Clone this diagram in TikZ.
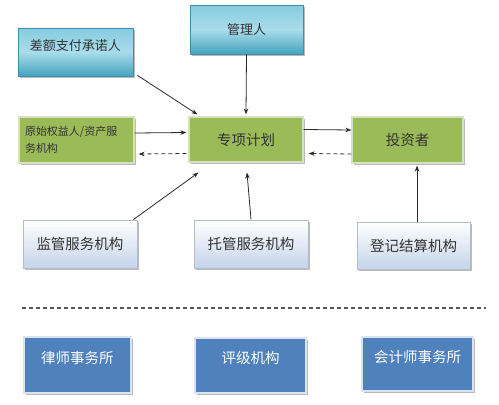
\documentclass[tikz,border=0pt]{standalone}
\usepackage{fontspec}
\setmainfont{Noto Sans CJK SC}
\usetikzlibrary{arrows.meta,shadows,calc}
\definecolor{cyT}{HTML}{86CCDF}
\definecolor{cyM}{HTML}{A9DCEA}
\definecolor{cyB}{HTML}{45A3BF}
\definecolor{cyD}{HTML}{3E8FA8}
\definecolor{grn}{HTML}{9BBB59}
\definecolor{grnE}{HTML}{D6E0C4}
\definecolor{litB}{HTML}{C4D4EA}
\definecolor{litE}{HTML}{B4BCC8}
\definecolor{dkb}{HTML}{4F81BD}
\definecolor{dkE}{HTML}{DCE3EE}
\definecolor{txt}{HTML}{333333}
\definecolor{ln}{HTML}{2A2A2A}
\begin{document}
\begin{tikzpicture}[x=1pt,y=-1pt,
  shad/.style={drop shadow={shadow xshift=1.8pt,shadow yshift=-1.8pt,opacity=0.45,fill=black!60}},
  blubox/.style={draw=cyD,line width=0.6pt,top color=cyT,bottom color=cyB,middle color=cyM,shad,
    font=\fontsize{13}{15}\selectfont,text=txt},
  grnbox/.style={draw=grnE,line width=1.2pt,fill=grn,shad,font=\fontsize{14.5}{17}\selectfont,text=txt},
  litbox/.style={draw=litE,line width=0.8pt,top color=white,bottom color=litB,shad,
    font=\fontsize{14.5}{17}\selectfont,text=txt},
  dkbox/.style={draw=dkE,line width=1.2pt,fill=dkb,shad,font=\fontsize{14.5}{17}\selectfont,text=white,
    text height=11pt,text depth=15pt},
  arr/.style={draw=ln,line width=0.8pt,-{Stealth[length=6pt,width=4.5pt]}},
  darr/.style={arr,dash pattern=on 4pt off 3pt},
  sep/.style={draw=ln!80,line width=1.3pt,dash pattern=on 4pt off 3pt}
]
\useasboundingbox (0,0) rectangle (499,405);
\fill[white] (0,0) rectangle (499,405);

% top row
\node[blubox,minimum width=115pt,minimum height=48pt,text height=10pt,text depth=14pt] (cmt) at (75.5,52) {差额支付承诺人};
\node[blubox,minimum width=113pt,minimum height=49pt] (mgr) at (246.5,29.5) {管理人};

% middle row
\node[grnbox,minimum width=115pt,minimum height=46pt,font=\fontsize{11}{17}\selectfont,align=left,text width=103pt,inner xsep=5pt] (orig) at (76.5,140) {原始权益人/资产服\\务机构};
\node[grnbox,minimum width=114pt,minimum height=45pt] (plan) at (246,139.5) {专项计划};
\node[grnbox,minimum width=111pt,minimum height=46pt] (inv) at (407.5,140) {投资者};

% third row
\node[litbox,minimum width=114pt,minimum height=48pt] (sup) at (80,244) {监管服务机构};
\node[litbox,minimum width=114pt,minimum height=48pt] (cust) at (251,244) {托管服务机构};
\node[litbox,minimum width=113pt,minimum height=47pt] (reg) at (413.5,245.5) {登记结算机构};

% separator
\coordinate (sepL) at (22,308);
\coordinate (sepR) at (486,308);
\draw[sep] (sepL) -- (sepR);

% bottom row
\node[dkbox,minimum width=107pt,minimum height=56pt] (law) at (77.5,365) {律师事务所};
\node[dkbox,minimum width=111pt,minimum height=55pt] (rate) at (250.5,365.5) {评级机构};
\node[dkbox,minimum width=111pt,minimum height=54pt] (acct) at (417.5,364) {会计师事务所};

% connectors
\draw[arr] ([xshift=4pt,yshift=1pt]cmt.south east) -- ([xshift=9pt,yshift=2pt]plan.north west);
\draw[arr] (mgr.south) -- ([yshift=2pt]plan.north);
\draw[arr] ([yshift=7pt]orig.east) -- ([xshift=-2pt,yshift=7pt]plan.west);
\draw[darr] ([xshift=-2pt,yshift=-14pt]plan.west) -- ([xshift=4pt,yshift=-14pt]orig.east);
\draw[arr] ([yshift=10pt]plan.east) -- ([yshift=10pt]inv.west);
\draw[darr] ([yshift=-14pt]inv.west) -- ([xshift=5pt,yshift=-14pt]plan.east);
\draw[arr] ([xshift=-4pt]sup.north east) -- ([xshift=10pt,yshift=-10pt]plan.south west);
\draw[arr] (cust.north) -- ([xshift=1pt,yshift=-10pt]plan.south);
\draw[arr] ([xshift=3.5pt]reg.north) -- ([xshift=9.5pt,yshift=-2pt]inv.south);
\end{tikzpicture}
\end{document}
